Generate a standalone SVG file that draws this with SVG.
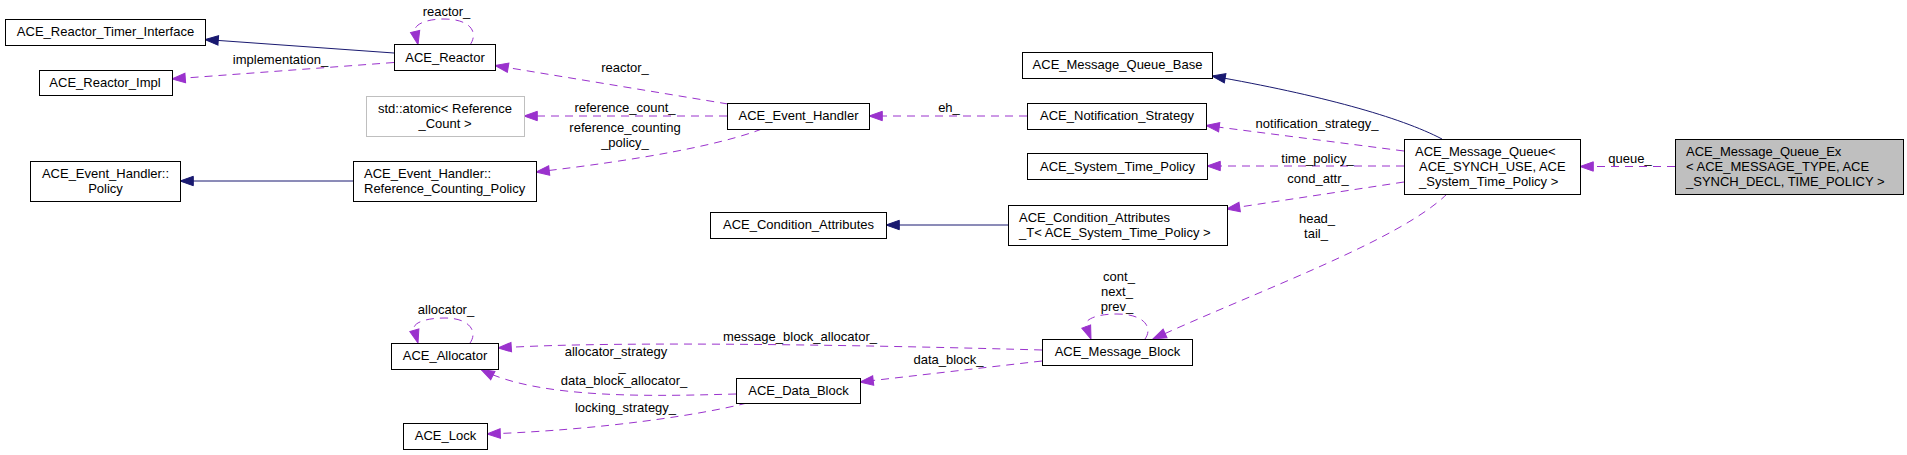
<svg xmlns="http://www.w3.org/2000/svg" width="1907" height="455" viewBox="0 0 1907 455">
<style>
text{font-family:"Liberation Sans",Arial,Helvetica,sans-serif;font-size:13px;fill:#000}
.n rect{fill:#fff;stroke:#000;stroke-width:1}
.n rect.root{fill:#bfbfbf}
.n rect.ext{stroke:#bfbfbf}
.c{text-anchor:middle}
.e{fill:none;stroke-width:1}
.u{stroke:#9a32cd;stroke-dasharray:8,6;marker-end:url(#ap)}
.i{stroke:#191970;marker-end:url(#ab)}
</style>
<defs>
<marker id="ap" markerUnits="userSpaceOnUse" markerWidth="15" markerHeight="11" viewBox="-1 -1 15 11" refX="13.3" refY="4.7" orient="auto" overflow="visible"><path d="M0,0 L13.3,4.7 L0,9.4 Z" fill="#9a32cd" stroke="#9a32cd" stroke-width="1"/></marker>
<marker id="ab" markerUnits="userSpaceOnUse" markerWidth="15" markerHeight="11" viewBox="-1 -1 15 11" refX="13.3" refY="4.7" orient="auto" overflow="visible"><path d="M0,0 L13.3,4.7 L0,9.4 Z" fill="#191970" stroke="#191970" stroke-width="1"/></marker>
</defs>
<rect width="1907" height="455" fill="#fff"/>
<g id="connectors">
<path class="e i" d="M394,53 L205,39.5"/>
<path class="e u" d="M470,45 C479,32 470,19 444,19 C425,19 414,25 415,31 L418,44.5"/>
<text class="c" x="446.5" y="16">reactor_</text>
<path class="e u" d="M394,62.5 L172,79"/>
<text class="c" x="280.5" y="64">implementation_</text>
<path class="e u" d="M728,104 L495,65.5"/>
<text class="c" x="625" y="71.5">reactor_</text>
<path class="e u" d="M727,116 L524,116"/>
<text class="c" x="625" y="111.5">reference_count_</text>
<path class="e u" d="M762,129 C720,145 640,160 536,172"/>
<text class="c" x="625" y="131.5">reference_counting</text>
<text class="c" x="625" y="146.5">_policy_</text>
<path class="e i" d="M353,181 L180,181"/>
<path class="e u" d="M1027,116 L869,116"/>
<text class="c" x="949" y="111.5">eh_</text>
<path class="e i" d="M1442,139 C1400,117 1320,95 1212,76"/>
<path class="e u" d="M1404,151 L1206,125.5"/>
<text class="c" x="1317" y="127.5">notification_strategy_</text>
<path class="e u" d="M1404,166 L1207,166"/>
<text class="c" x="1317.5" y="162.5">time_policy_</text>
<path class="e u" d="M1404,182 L1226.5,209"/>
<text class="c" x="1318" y="182.5">cond_attr_</text>
<path class="e i" d="M1008,225 L886,225"/>
<path class="e u" d="M1447,194 C1400,240 1260,290 1153,339"/>
<text class="c" x="1317" y="222.5">head_</text>
<text class="c" x="1316" y="237.5">tail_</text>
<path class="e u" d="M1145,339 C1153,328 1145,314 1117,314 C1095,314 1084,320 1086,326 L1091,339"/>
<text class="c" x="1119" y="281">cont_</text>
<text class="c" x="1117" y="296">next_</text>
<text class="c" x="1117" y="311">prev_</text>
<path class="e u" d="M1042,350 C900,346 620,340 498,348"/>
<text class="c" x="800" y="340.5">message_block_allocator_</text>
<path class="e u" d="M736,394 C660,396 540,400 481,369.5"/>
<text class="c" x="616" y="356">allocator_strategy</text>
<text class="c" x="622" y="371">_</text>
<text class="c" x="624" y="385">data_block_allocator_</text>
<path class="e u" d="M747,403 C700,415 600,430 487,434"/>
<text class="c" x="625.5" y="411.5">locking_strategy_</text>
<path class="e u" d="M1042,361 L860,382"/>
<text class="c" x="948.5" y="364">data_block_</text>
<path class="e u" d="M470,343 C478,332 470,318 445,318 C425,318 413,323 414,329 L418,343"/>
<text class="c" x="446" y="314">allocator_</text>
<path class="e u" d="M1675,166.5 L1580,166.5"/>
<text class="c" x="1630" y="163">queue_</text>
</g>
<g id="n_timer" class="n"><rect x="5.5" y="19.5" width="200" height="26"/><text class="c" x="105.5" y="36">ACE_Reactor_Timer_Interface</text></g>
<g id="n_reactor" class="n"><rect x="394.5" y="44.5" width="101" height="26"/><text class="c" x="445" y="61.5">ACE_Reactor</text></g>
<g id="n_impl" class="n"><rect x="39.5" y="70.5" width="133" height="25"/><text class="c" x="105" y="87">ACE_Reactor_Impl</text></g>
<g id="n_atomic" class="n"><rect class="ext" x="366.5" y="96.5" width="158" height="40"/><text class="c" x="445" y="113">std::atomic&lt; Reference</text><text class="c" x="445" y="128">_Count &gt;</text></g>
<g id="n_policy" class="n"><rect x="30.5" y="161.5" width="150" height="40"/><text class="c" x="105.5" y="178">ACE_Event_Handler::</text><text class="c" x="105.5" y="193">Policy</text></g>
<g id="n_rcp" class="n"><rect x="353.5" y="161.5" width="183" height="40"/><text x="364" y="178">ACE_Event_Handler::</text><text x="364" y="193">Reference_Counting_Policy</text></g>
<g id="n_eh" class="n"><rect x="727.5" y="103.5" width="142" height="26"/><text class="c" x="798.5" y="120">ACE_Event_Handler</text></g>
<g id="n_mqbase" class="n"><rect x="1022.5" y="52.5" width="190" height="26"/><text class="c" x="1117.5" y="69">ACE_Message_Queue_Base</text></g>
<g id="n_notif" class="n"><rect x="1027.5" y="103.5" width="179" height="26"/><text class="c" x="1117" y="120">ACE_Notification_Strategy</text></g>
<g id="n_stp" class="n"><rect x="1027.5" y="153.5" width="180" height="26"/><text class="c" x="1117.5" y="170.5">ACE_System_Time_Policy</text></g>
<g id="n_ca" class="n"><rect x="710.5" y="212.5" width="176" height="26"/><text class="c" x="798.5" y="229">ACE_Condition_Attributes</text></g>
<g id="n_cat" class="n"><rect x="1008.5" y="205.5" width="219" height="40"/><text x="1019" y="222">ACE_Condition_Attributes</text><text x="1019" y="237">_T&lt; ACE_System_Time_Policy &gt;</text></g>
<g id="n_mq" class="n"><rect x="1404.5" y="139.5" width="176" height="55"/><text x="1415" y="156">ACE_Message_Queue&lt;</text><text x="1419" y="171">ACE_SYNCH_USE, ACE</text><text x="1419" y="186">_System_Time_Policy &gt;</text></g>
<g id="n_mqex" class="n"><rect class="root" x="1675.5" y="139.5" width="228" height="55"/><text x="1686" y="156">ACE_Message_Queue_Ex</text><text x="1686" y="171">&lt; ACE_MESSAGE_TYPE, ACE</text><text x="1686" y="186">_SYNCH_DECL, TIME_POLICY &gt;</text></g>
<g id="n_alloc" class="n"><rect x="391.5" y="343.5" width="107" height="26"/><text class="c" x="445" y="360">ACE_Allocator</text></g>
<g id="n_lock" class="n"><rect x="403.5" y="423.5" width="84" height="26"/><text class="c" x="445.5" y="440">ACE_Lock</text></g>
<g id="n_db" class="n"><rect x="736.5" y="378.5" width="124" height="25"/><text class="c" x="798.5" y="395">ACE_Data_Block</text></g>
<g id="n_mb" class="n"><rect x="1042.5" y="339.5" width="150" height="26"/><text class="c" x="1117.5" y="356">ACE_Message_Block</text></g>
</svg>
